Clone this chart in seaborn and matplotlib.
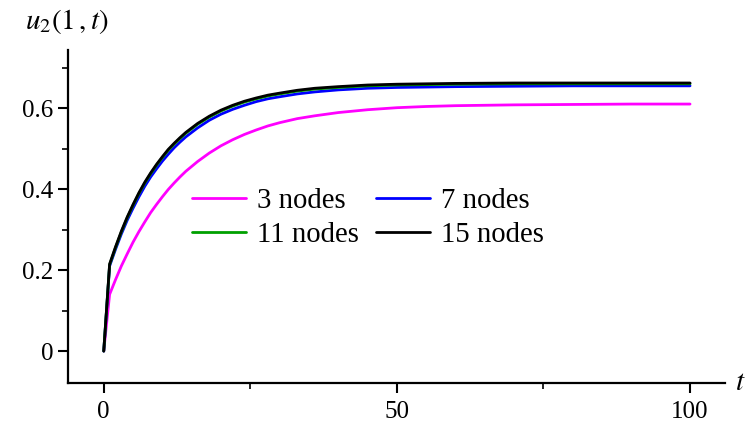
import numpy as np
import pandas as pd
import matplotlib.pyplot as plt
import seaborn as sns
from matplotlib.ticker import MultipleLocator

t = [0, 1, 2, 3, 4, 5, 6, 7, 8, 9, 10, 11, 12, 13, 14, 16, 18, 20, 22, 24, 26, 28, 30,
     33, 36, 40, 45, 50, 55, 60, 70, 80, 90, 100]

nodes3 = [0, 0.140, 0.176, 0.210, 0.240, 0.269, 0.295, 0.319, 0.342, 0.362, 0.381, 0.399,
          0.415, 0.430, 0.444, 0.468, 0.489, 0.507, 0.522, 0.535, 0.546, 0.556, 0.564,
          0.574, 0.581, 0.589, 0.596, 0.601, 0.604, 0.606, 0.608, 0.609, 0.610, 0.610]
nodes7 = [0, 0.210, 0.251, 0.289, 0.323, 0.353, 0.381, 0.407, 0.430, 0.450, 0.469, 0.486,
          0.502, 0.516, 0.529, 0.551, 0.570, 0.585, 0.597, 0.607, 0.616, 0.623, 0.628,
          0.635, 0.640, 0.645, 0.649, 0.651, 0.652, 0.653, 0.654, 0.655, 0.655, 0.655]
nodes11 = [0, 0.213, 0.255, 0.294, 0.329, 0.360, 0.389, 0.415, 0.438, 0.459, 0.478, 0.496,
           0.511, 0.525, 0.538, 0.560, 0.578, 0.593, 0.605, 0.615, 0.623, 0.630, 0.635,
           0.642, 0.647, 0.651, 0.655, 0.657, 0.658, 0.659, 0.660, 0.660, 0.660, 0.660]
nodes15 = [0, 0.215, 0.257, 0.296, 0.331, 0.362, 0.391, 0.417, 0.440, 0.461, 0.480, 0.498,
           0.513, 0.527, 0.540, 0.562, 0.580, 0.595, 0.607, 0.617, 0.625, 0.632, 0.637,
           0.644, 0.649, 0.653, 0.657, 0.659, 0.660, 0.661, 0.662, 0.662, 0.662, 0.662]

labels = ['3 nodes', '7 nodes', '11 nodes', '15 nodes']
colors = ['#ff00ff', '#0000ff', '#00a000', '#000000']

df = pd.concat([
    pd.DataFrame({'t': t, 'u': vals, 'series': lab})
    for vals, lab in zip([nodes3, nodes7, nodes11, nodes15], labels)
])

sns.set_style('white')
plt.rcParams['font.family'] = ['Liberation Serif', 'DejaVu Serif']
plt.rcParams['mathtext.fontset'] = 'stix'
for k in ['text.color', 'xtick.color', 'ytick.color', 'axes.labelcolor']:
    plt.rcParams[k] = 'black'

fig = plt.figure(figsize=(7.52, 4.29), dpi=100)
ax = fig.add_axes([0.0904, 0.107, 0.874, 0.776])

sns.lineplot(data=df, x='t', y='u', hue='series', palette=dict(zip(labels, colors)),
             linewidth=2.0, ax=ax)

ax.set_xlim(-6.1, 106)
ax.set_ylim(-0.079, 0.743)
ax.set_xticks([0, 50, 100])
ax.set_yticks([0, 0.2, 0.4, 0.6])
ax.set_yticklabels(['0', '0.2', '0.4', '0.6'])
ax.xaxis.set_minor_locator(MultipleLocator(25))
ax.yaxis.set_minor_locator(MultipleLocator(0.1))
ax.tick_params(axis='both', which='major', direction='out', length=7, width=1.5,
               labelsize=18, bottom=True, left=True, colors='black')
ax.tick_params(axis='x', which='major', pad=6)
ax.tick_params(axis='both', which='minor', direction='out', length=4, width=1.2,
               bottom=True, left=True, colors='black')
for s in ['top', 'right']:
    ax.spines[s].set_visible(False)
for s in ['left', 'bottom']:
    ax.spines[s].set_linewidth(1.6)
    ax.spines[s].set_color('black')

ax.set_xlabel('')
ax.set_ylabel('')
fig.text(0.992, 0.107, r'$t$', fontsize=21, ha='right', va='center')
fig.text(0.033, 0.95, r'$u_2(1\,,t)$', fontsize=21, ha='left', va='center')

# reorder so rows read 3,7 / 11,15 (legend fills column-major)
handles, labs = ax.get_legend_handles_labels()
order = [0, 2, 1, 3]
leg = ax.legend([handles[i] for i in order], [labs[i] for i in order],
                ncol=2, frameon=False, fontsize=20.7, loc='center',
                bbox_to_anchor=(0.456, 0.496), handlelength=1.88, columnspacing=0.59,
                handletextpad=0.38, labelspacing=0.25)
for ln in leg.get_lines():
    ln.set_linewidth(2.0)

fig.savefig('out.png', dpi=100)
